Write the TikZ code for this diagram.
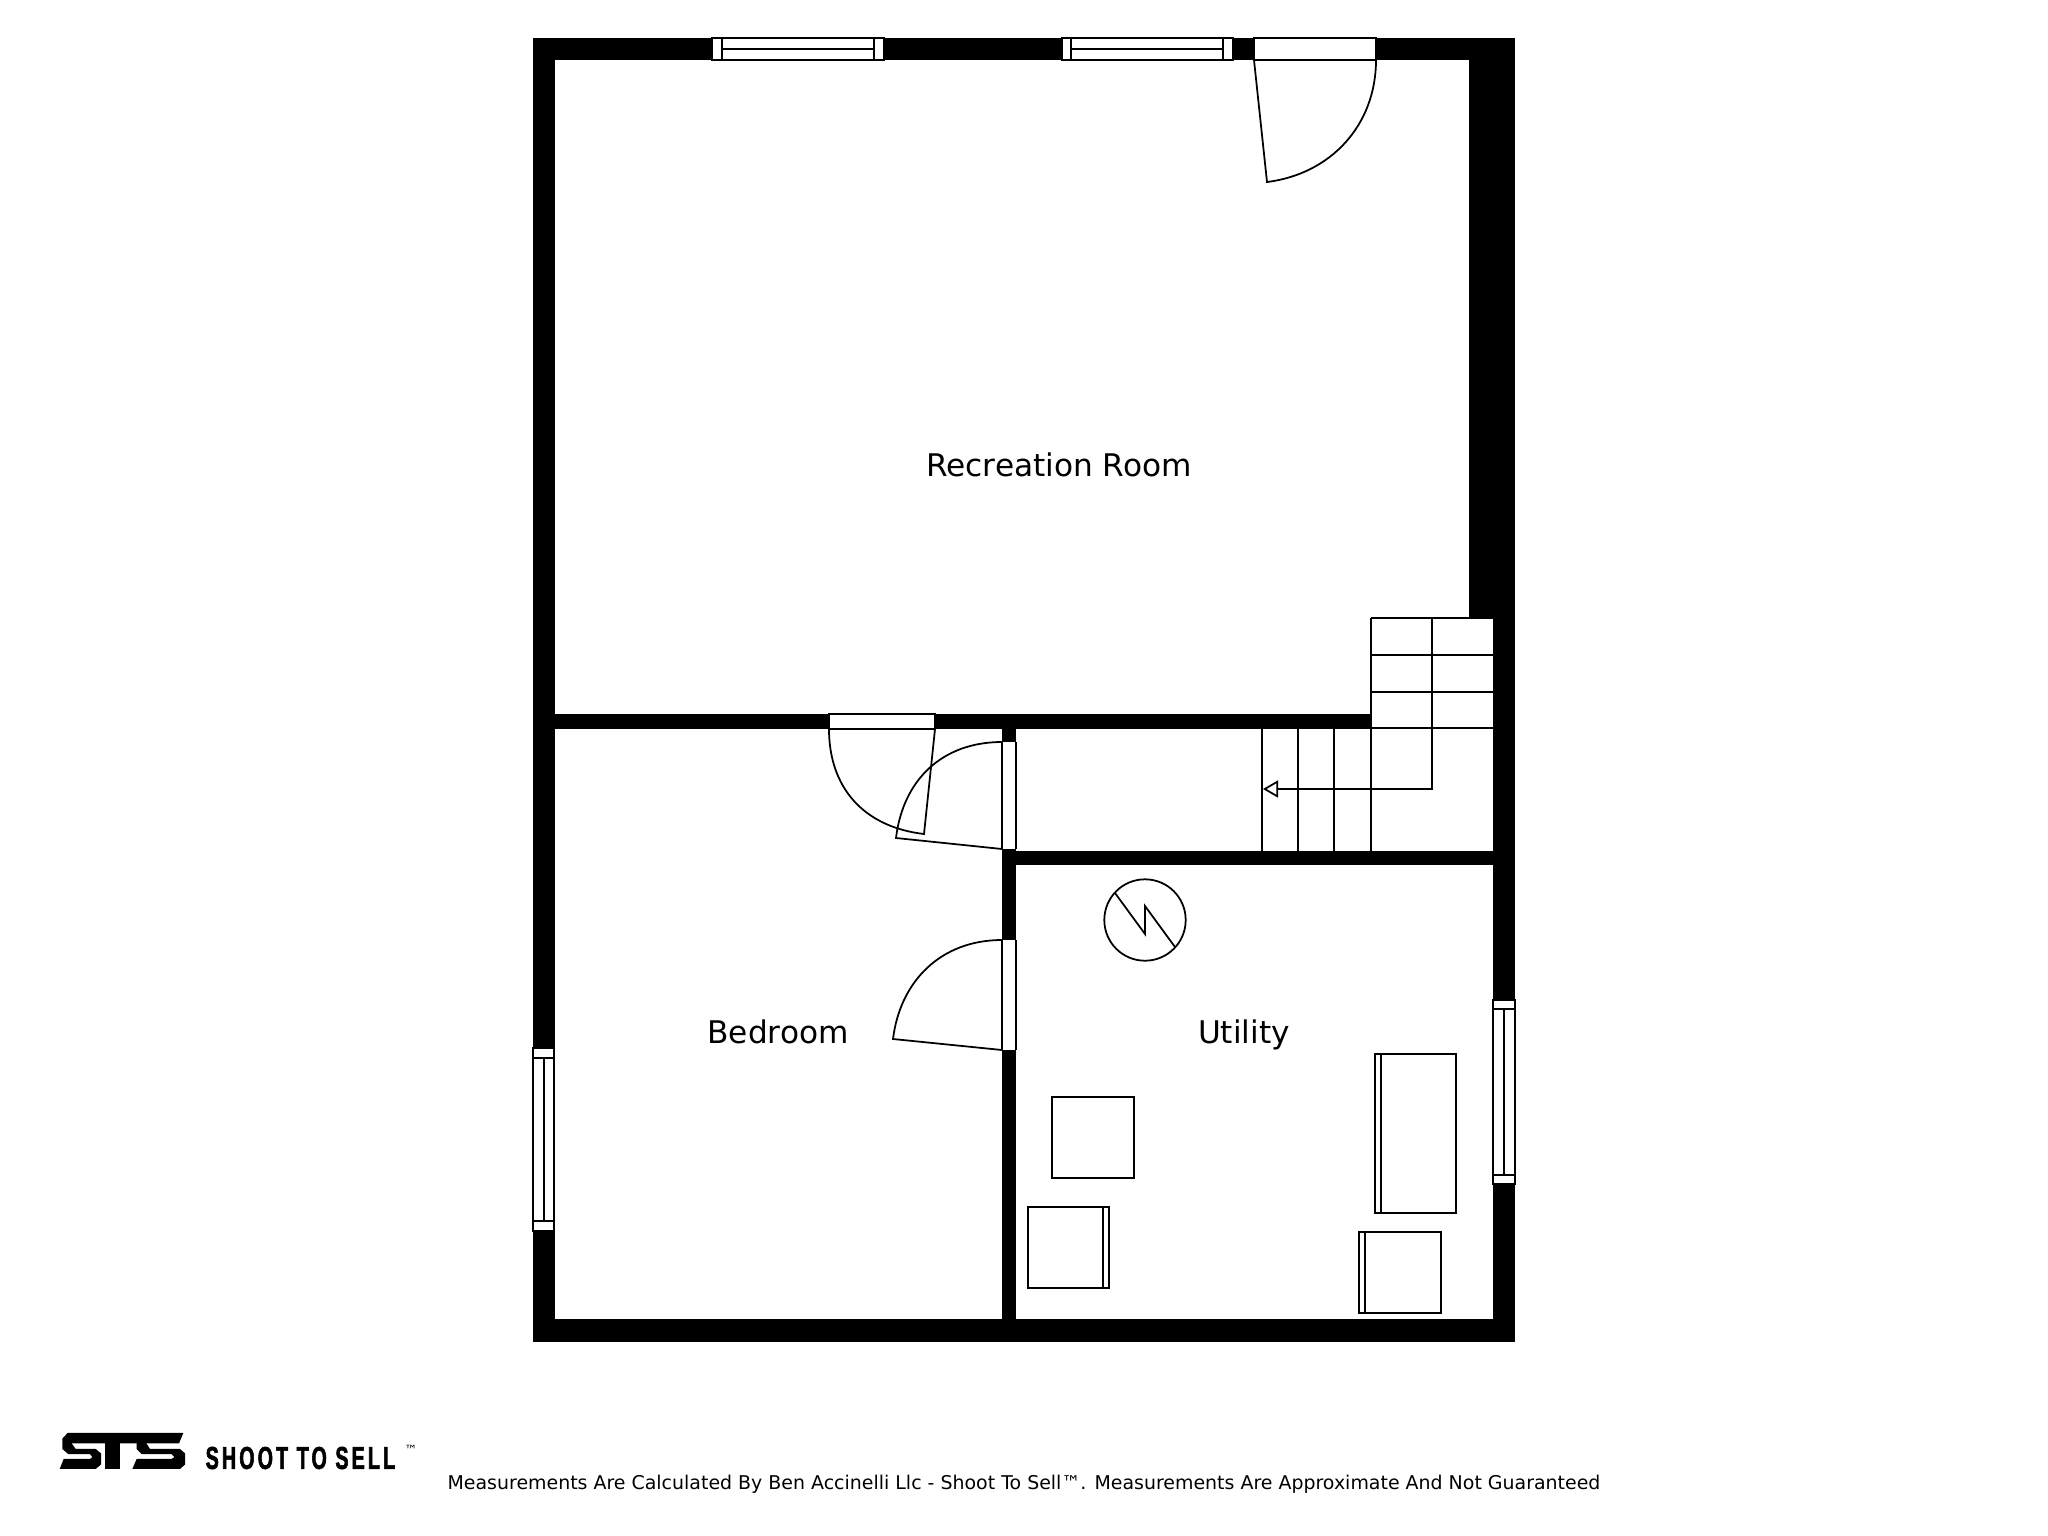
\documentclass[tikz,border=0pt]{standalone}
\usepackage{fontspec}
\usetikzlibrary{arrows.meta, positioning}
\setmainfont{DejaVu Sans}
\newfontfamily\logofont[FakeStretch=0.62,FakeBold=1.8,LetterSpace=10]{Liberation Sans Bold}

\begin{document}
\begin{tikzpicture}[
    x=0.01cm,
    y=-0.01cm,
    wall/.style={
        fill=black
    },
    plainline/.style={
        draw=black,
        line width=0.5pt
    },
    opening/.style={
        fill=white,
        draw=black,
        line width=0.45pt
    },
    roomlabel/.style={
        font=\fontsize{8.87pt}{10pt}\selectfont,
        text=black
    },
    fixture/.style={
        draw=black,
        fill=white,
        line width=0.55pt
    }
]
\useasboundingbox (0,0) rectangle (2048,1536);

% walls
\fill [wall] (533,38) rectangle (1515,60);
\fill [wall] (533,38) rectangle (555,1342);
\fill [wall] (533,1319) rectangle (1515,1342);
\fill [wall] (1469,38) rectangle (1515,618);
\fill [wall] (1493,618) rectangle (1515,1342);
\fill [wall] (555,714) rectangle (1371,729);
\fill [wall] (1002,729) rectangle (1016,1319);
\fill [wall] (1016,851) rectangle (1493,865);

% windows
\draw [opening] (712,38) rectangle (884,60);
\draw [opening] (722,38) rectangle (874,60);
\draw [plainline] (722,49) -- (874,49);
\draw [opening] (1062,38) rectangle (1233,60);
\draw [opening] (1071,38) rectangle (1223,60);
\draw [plainline] (1071,49) -- (1223,49);
\draw [opening] (533,1048) rectangle (554,1231);
\draw [opening] (533,1058) rectangle (554,1221);
\draw [plainline] (544,1058) -- (544,1221);
\draw [opening] (1493,1000) rectangle (1515,1184);
\draw [opening] (1493,1009) rectangle (1515,1175);
\draw [plainline] (1504,1009) -- (1504,1175);

% doors
\draw [opening] (1254,38) rectangle (1376,60);
\draw [plainline] (1254,60) -- (1267,182) .. controls (1331,174) and (1376,125) .. (1376,60);
\draw [opening] (829,714) rectangle (935,729);
\draw [plainline] (935,729) -- (924,834) .. controls (864,827) and (829,788) .. (829,729);
\fill [white] (1002,742) rectangle (1016,849);
\draw [plainline] (1002,742) -- (1002,849) (1016,742) -- (1016,849);
\draw [plainline] (1002,849) -- (896,838) .. controls (903,780) and (942,742) .. (1002,742);
\fill [white] (1002,940) rectangle (1016,1050);
\draw [plainline] (1002,940) -- (1002,1050) (1016,940) -- (1016,1050);
\draw [plainline] (1002,1050) -- (893,1039) .. controls (900,982) and (940,940) .. (1002,940);

% stairs
\draw [plainline] (1371,618) -- (1493,618);
\draw [plainline] (1371,618) -- (1371,851);
\foreach \treadY in {655,692,728} {
    \draw [plainline] (1371,\treadY) -- (1493,\treadY);
}
\foreach \treadX in {1262,1298,1334} {
    \draw [plainline] (\treadX,729) -- (\treadX,851);
}
\draw [plainline, -{Triangle[open,fill=white,length=15*0.2845pt,width=17*0.2845pt]}] (1432,618) -- (1432,789) -- (1263,789);

% furnace
\draw [plainline] (1145,920) circle (40.7);
\draw [plainline] (1115,893) -- (1145,934) -- (1145,906) -- (1175,947);

% appliances
\draw [fixture] (1052,1097) rectangle (1134,1178);
\draw [fixture] (1028,1207) rectangle (1109,1288);
\draw [plainline] (1103,1207) -- (1103,1288);
\draw [fixture] (1375,1054) rectangle (1456,1213);
\draw [plainline] (1381,1054) -- (1381,1213);
\draw [plainline, line width=0.8pt] (1375,1054) -- (1456,1054);
\draw [plainline, line width=0.8pt] (1375,1213) -- (1456,1213);
\draw [fixture] (1359,1232) rectangle (1441,1313);
\draw [plainline] (1365,1232) -- (1365,1313);

% rooms
\node (recroom) [roomlabel] at (1059,465) {Recreation Room};
\node (bedroom) [roomlabel] at (778,1032) {Bedroom};
\node (utility) [roomlabel] at (1244,1035) {Utility};

% logo
\begin{scope}[shift={(55,1423.7)}, x=0.01cm/3, y=-0.00371cm]
    \fill (38,25) -- (385,25) -- (372,53) -- (38,53) -- cycle;
    \fill (38,25) -- (22,40) -- (22,68) -- (40,82) -- (105,82) -- (112,90) -- (105,95) -- (26,95) -- (14,122)
        -- (122,122) -- (138,110) -- (138,80) -- (122,68) -- (62,68) -- (50,53) -- cycle;
    \fill (150,50) -- (195,50) -- (195,122) -- (150,122) -- cycle;
    \fill (245,50) -- (245,68) -- (260,82) -- (350,82) -- (358,90) -- (350,95) -- (245,95) -- (232,122)
        -- (375,122) -- (390,110) -- (390,80) -- (375,68) -- (285,68) -- (272,50) -- cycle;
\end{scope}
\node (logotext) [anchor=west, inner sep=0pt, font=\logofont\fontsize{9pt}{10pt}\selectfont] at (205,1458) {SHOOT TO SELL};
\node (logotm) [anchor=north west, inner sep=0pt, font=\fontsize{3.6pt}{4pt}\selectfont] at (404,1445) {™};

% footer
\node (footnote) [font=\fontsize{5.39pt}{7pt}\selectfont] at (1024,1484) {Measurements Are Calculated By Ben Accinelli Llc - Shoot To Sell™. Measurements Are Approximate And Not Guaranteed};
\end{tikzpicture}
\end{document}
